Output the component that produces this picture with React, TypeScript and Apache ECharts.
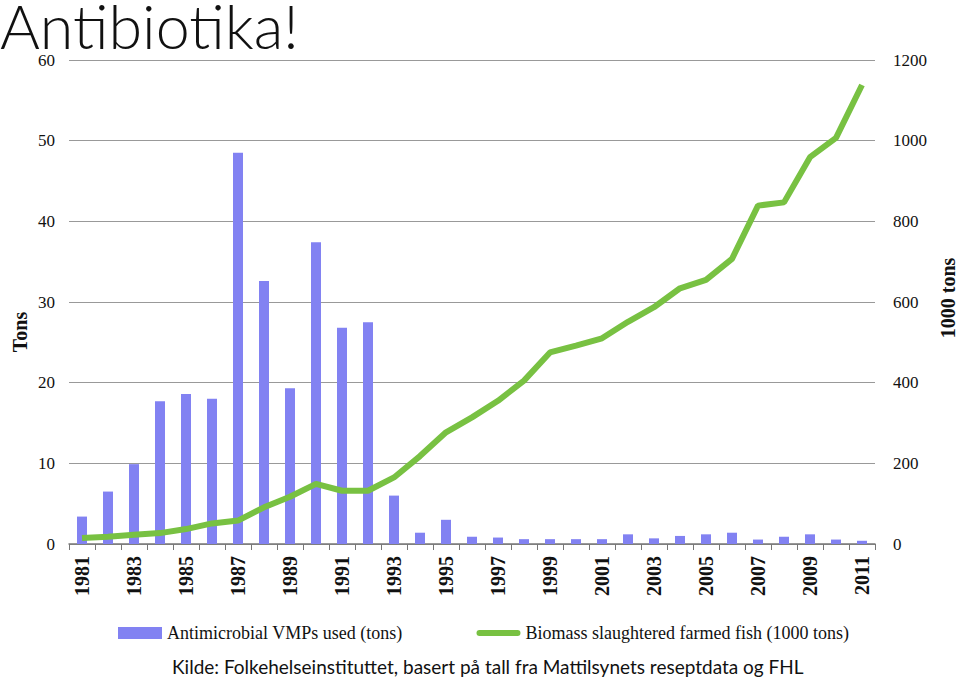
import React, { useEffect, useRef } from "react";
import * as echarts from "echarts";

const years = [
  "1981","1982","1983","1984","1985","1986","1987","1988","1989","1990",
  "1991","1992","1993","1994","1995","1996","1997","1998","1999","2000",
  "2001","2002","2003","2004","2005","2006","2007","2008","2009","2010","2011",
];

const antimicrobialTons = [
  3.4, 6.5, 9.9, 17.7, 18.6, 18.0, 48.5, 32.6, 19.3, 37.4,
  26.8, 27.5, 6.0, 1.4, 3.0, 0.9, 0.8, 0.6, 0.6, 0.6,
  0.6, 1.2, 0.7, 1.0, 1.2, 1.4, 0.55, 0.9, 1.2, 0.55, 0.4,
];

const biomassKTons = [
  15, 18, 23, 27, 37, 51, 58, 91, 117, 149,
  132, 132, 165, 218, 277, 314, 355, 405, 475, 492,
  510, 551, 587, 634, 655, 707, 839, 847, 959, 1007, 1138,
];

const barName = "Antimicrobial VMPs used (tons)";
const lineName = "Biomass slaughtered farmed fish (1000 tons)";
const titleText = "Antibiotika!";
const leftAxisName = "Tons";
const rightAxisName = "1000 tons";
const sourceText = "Kilde: Folkehelseinstituttet, basert på tall fra Mattilsynets reseptdata og FHL";

const serif = "'Liberation Serif', 'DejaVu Serif', serif";
const sans = "Lato, 'Open Sans', sans-serif";

export default function App() {
  const ref = useRef<HTMLDivElement>(null);

  useEffect(() => {
    if (!ref.current) return;
    const chart = echarts.init(ref.current, null, { renderer: "svg" });
    chart.setOption({
      animation: false,
      backgroundColor: "#ffffff",
      title: {
        text: titleText,
        left: 0,
        top: 0,
        padding: 0,
        textStyle: {
          fontFamily: sans,
          fontWeight: 300,
          fontSize: 61,
          lineHeight: 50,
          color: "#111",
        },
      },
      graphic: [
        {
          type: "text",
          x: 20,
          y: 332,
          rotation: Math.PI / 2,
          style: {
            text: leftAxisName,
            align: "center",
            verticalAlign: "middle",
            fontFamily: serif,
            fontWeight: "bold",
            fontSize: 20,
            fill: "#111",
          },
        },
        {
          type: "text",
          x: 948,
          y: 298,
          rotation: Math.PI / 2,
          style: {
            text: rightAxisName,
            align: "center",
            verticalAlign: "middle",
            fontFamily: serif,
            fontWeight: "bold",
            fontSize: 20,
            fill: "#111",
          },
        },
        {
          type: "text",
          left: 172,
          top: 657,
          style: {
            text: sourceText,
            fontFamily: sans,
            fontSize: 19,
            fill: "#111",
          },
        },
      ],
      legend: {
        bottom: 33,
        left: 113,
        itemGap: 74,
        itemWidth: 44,
        itemHeight: 12,
        textStyle: { fontFamily: serif, fontSize: 18, color: "#111" },
        data: [
          { name: barName, icon: "rect" },
          {
            name: lineName,
            icon: "path://M3,0 L41,0 A3,3 0 0 1 41,6 L3,6 A3,3 0 0 1 3,0 Z",
            itemStyle: { color: "#78C142" },
          },
        ],
      },
      grid: { left: 69, right: 85, top: 60, bottom: 136, outerBoundsMode: "none", containLabel: false },
      xAxis: {
        type: "category",
        data: years,
        boundaryGap: true,
        axisLine: { lineStyle: { color: "#777", width: 1.5 } },
        axisTick: { show: true, interval: 0, length: 6, lineStyle: { color: "#777" } },
        axisLabel: {
          interval: 1,
          rotate: 90,
          margin: 12,
          fontFamily: serif,
          fontWeight: "bold",
          fontSize: 20,
          color: "#111",
        },
      },
      yAxis: [
        {
          type: "value",
          min: 0,
          max: 60,
          interval: 10,
          axisLine: { show: false },
          axisTick: { show: false },
          axisLabel: { margin: 14, fontFamily: serif, fontSize: 17, color: "#111" },
          splitLine: { lineStyle: { color: "#999", width: 1.2 } },
        },
        {
          type: "value",
          min: 0,
          max: 1200,
          interval: 200,
          axisLine: { show: false },
          axisTick: { show: false },
          axisLabel: {
            margin: 18,
            fontFamily: serif,
            fontSize: 17,
            color: "#111",
            formatter: (v: number) => String(v),
          },
          splitLine: { show: false },
        },
      ],
      series: [
        {
          name: barName,
          type: "bar",
          yAxisIndex: 0,
          data: antimicrobialTons,
          barWidth: 10,
          itemStyle: { color: "#8282F2" },
        },
        {
          name: lineName,
          type: "line",
          yAxisIndex: 1,
          data: biomassKTons,
          showSymbol: false,
          symbol: "none",
          lineStyle: { color: "#78C142", width: 6 },
          itemStyle: { color: "#78C142" },
        },
      ],
    });
    return () => chart.dispose();
  }, []);

  return <div ref={ref} style={{ width: 960, height: 680, position: "absolute", left: 0, top: 0 }} />;
}
